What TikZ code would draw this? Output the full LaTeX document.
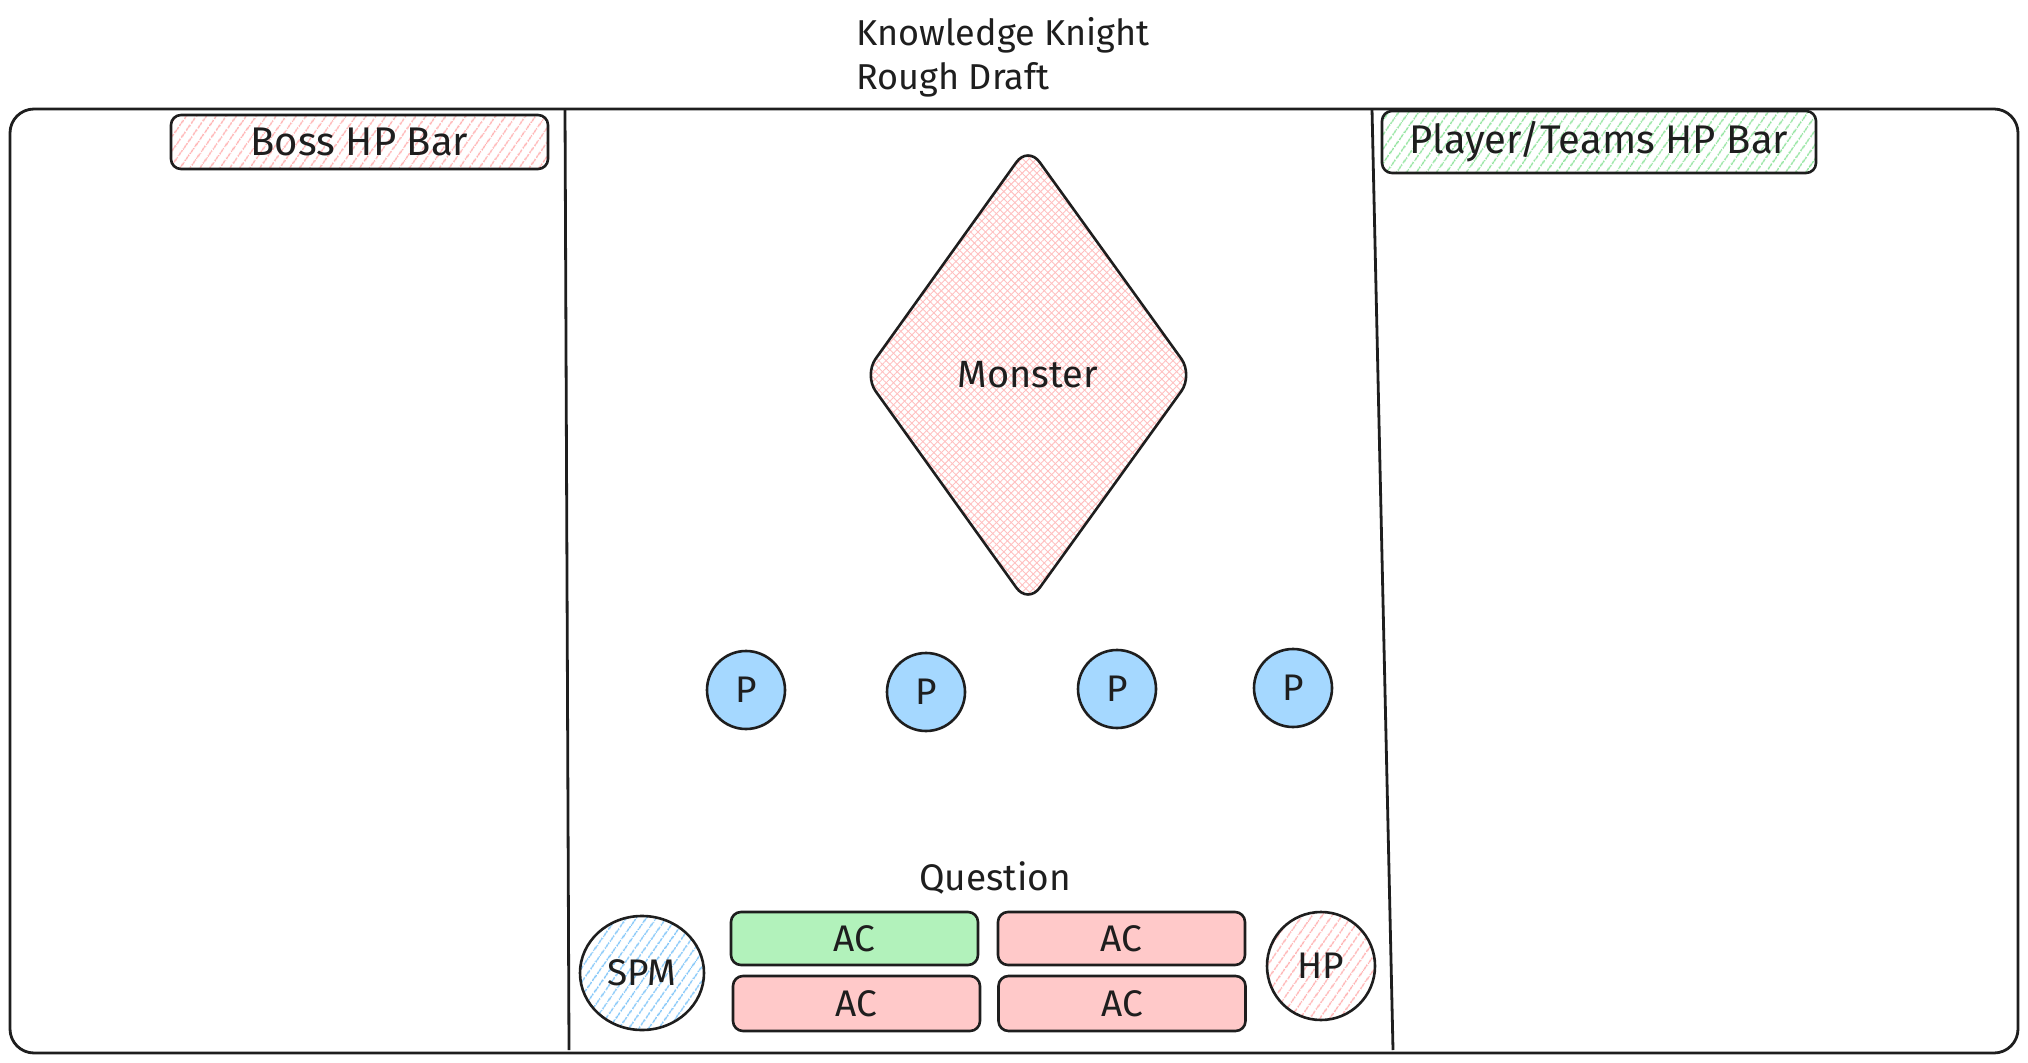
\documentclass[tikz,border=0pt]{standalone}
\usepackage{fontspec}
\setmainfont{Fira Sans}
\usetikzlibrary{patterns.meta,shapes.geometric}
\definecolor{ink}{HTML}{1E1E1E}
\definecolor{pinkfill}{HTML}{FFC9C9}
\definecolor{greenfill}{HTML}{B2F2BB}
\definecolor{bluefill}{HTML}{A5D8FF}
\definecolor{pinkhatch}{HTML}{FFB0B0}
\definecolor{crosshatch}{HTML}{FFC0C0}
\definecolor{greenhatch}{HTML}{8FE39C}
\definecolor{bluehatch}{HTML}{7EC4F8}
\begin{document}
\begin{tikzpicture}[x=0.5pt,y=-0.5pt,
  stroke/.style={draw=ink, line width=1.3pt},
  bar/.style={stroke, rounded corners=5pt, inner sep=0pt},
  hatchred/.style={pattern={Lines[angle=55,distance=4pt,line width=0.75pt]}, pattern color=pinkhatch},
  hatchgreen/.style={pattern={Lines[angle=55,distance=4pt,line width=0.75pt]}, pattern color=greenhatch},
  hatchblue/.style={pattern={Lines[angle=55,distance=4pt,line width=0.75pt]}, pattern color=bluehatch},
  cross/.style={pattern={Lines[angle=45,distance=2.6pt,line width=0.45pt]}, pattern color=crosshatch},
  cross2/.style={pattern={Lines[angle=-45,distance=2.6pt,line width=0.45pt]}, pattern color=crosshatch},
  txt/.style={font=\fontsize{18.5}{22}\selectfont, text=ink},
  bigtxt/.style={font=\fontsize{20}{24}\selectfont, text=ink},
  pcirc/.style={stroke, circle, fill=bluefill, minimum size=39pt, inner sep=0pt, txt},
  acbox/.style={stroke, rounded corners=5pt, minimum width=123.5pt, minimum height=26.5pt, inner sep=0pt, txt},
]
\useasboundingbox (0,0) rectangle (2028,1063);
% title
\node[text=ink, anchor=west, align=left, inner sep=0pt, font=\fontsize{18}{22}\selectfont] (title) at (856,57) {Knowledge Knight\\Rough Draft};
% frame
\draw[stroke, line width=1.4pt, rounded corners=12pt] (10,109) rectangle (2018,1053);
\draw[stroke, line width=1.4pt] (565,109) -- (569,1050);
\draw[stroke, line width=1.4pt] (1372,109) -- (1393,1050);
% bars
\node[bar, hatchred, minimum width=188.5pt, minimum height=27pt, bigtxt] (boss) at (359.5,142) {Boss HP Bar};
\node[bar, hatchgreen, minimum width=217pt, minimum height=31pt, bigtxt] (player) at (1599,142) {Player/Teams HP Bar};
% monster
\path[cross, rounded corners=10pt] (1028,146) -- (1193,375) -- (1028,604) -- (864,375) -- cycle;
\path[cross2, rounded corners=10pt] (1028,146) -- (1193,375) -- (1028,604) -- (864,375) -- cycle;
\draw[stroke, rounded corners=10pt] (1028,146) -- (1193,375) -- (1028,604) -- (864,375) -- cycle;
\node[txt, font=\fontsize{19}{22}\selectfont] (monster) at (1028,375) {Monster};
% players
\node[pcirc] (p1) at (746,690) {P};
\node[pcirc] (p2) at (926,692) {P};
\node[pcirc] (p3) at (1117,689) {P};
\node[pcirc] (p4) at (1293,688) {P};
% question
\node[txt] (question) at (995,878) {Question};
\node[stroke, ellipse, hatchblue, minimum width=62pt, minimum height=57pt, inner sep=0pt, txt] (spm) at (642,973) {SPM};
\node[acbox, fill=greenfill] (ac1) at (854.5,938.5) {AC};
\node[acbox, fill=pinkfill] (ac2) at (1121.5,938.5) {AC};
\node[acbox, fill=pinkfill, minimum height=27.5pt] (ac3) at (856.5,1003.5) {AC};
\node[acbox, fill=pinkfill, minimum height=27.5pt] (ac4) at (1122,1003.5) {AC};
\node[stroke, circle, hatchred, minimum size=54pt, inner sep=0pt, txt] (hp) at (1321,966) {HP};
\end{tikzpicture}
\end{document}
